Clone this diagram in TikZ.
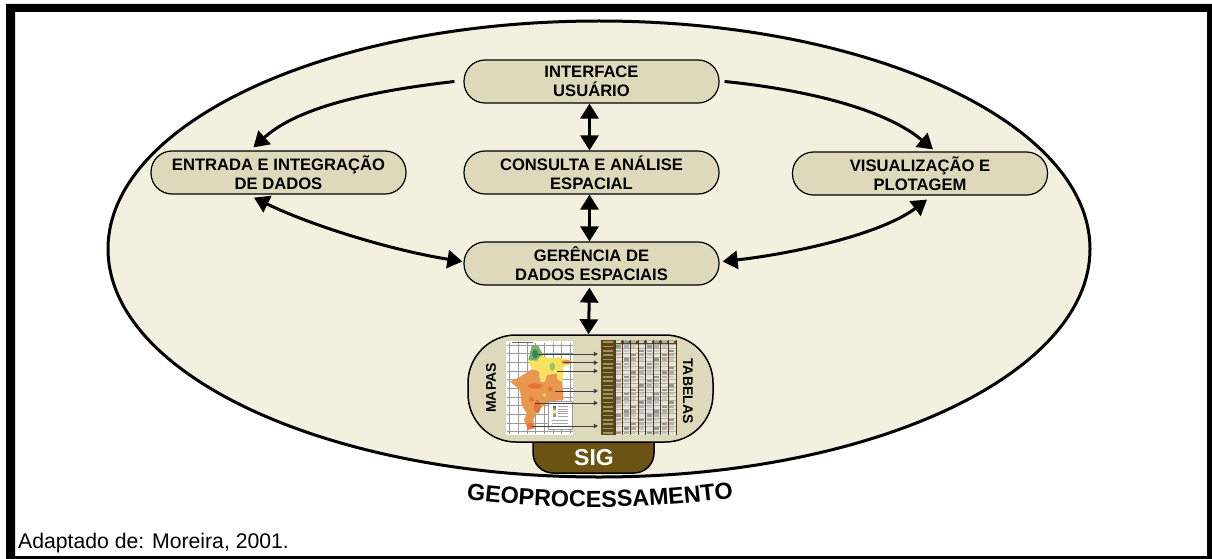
\documentclass[tikz,border=0pt]{standalone}
\usepackage{fontspec}
\setmainfont{Liberation Sans}
\usetikzlibrary{arrows.meta,decorations.text}
\definecolor{fundo}{HTML}{F4F0E0}
\definecolor{caixa}{HTML}{DFD9BC}
\definecolor{marrom}{HTML}{6B5314}
\definecolor{celula}{HTML}{ECE8D8}
\definecolor{laranja}{HTML}{E9964E}
\definecolor{telha}{HTML}{E2733A}
\definecolor{amarelo}{HTML}{F6E25F}
\definecolor{verde}{HTML}{7FAE68}
\definecolor{mata}{HTML}{2F8A55}
\tikzset{
	pill/.style={draw,line width=1.2pt,fill=caixa,rectangle,rounded corners=21pt,minimum width=255pt,minimum height=43pt,inner sep=0pt,align=center,font=\fontsize{16.6}{18.8}\selectfont\bfseries,execute at begin node={\rule{0pt}{15pt}}},
	link/.style={line width=3pt,>={Triangle[length=15pt,width=18pt]}},
	maplink/.style={line width=0.5pt,black!75,-{Triangle[length=4pt,width=4.5pt]},shorten >=3pt},
	lateral/.style={font=\fontsize{14}{16}\selectfont\bfseries,inner sep=0pt},
}
\begin{document}
\begin{tikzpicture}[x=1pt,y=-1pt]
	\useasboundingbox (0,0) rectangle (1212,559);
	\fill[even odd rule] (6,4) rectangle (1212,559) (15,12) rectangle (1207,556);
	\node[font=\fontsize{21.2}{24}\selectfont,inner sep=0pt,anchor=base west] (fonte) at (18,548) {Adaptado de: Moreira, 2001.};
	\draw[line width=3pt,fill=fundo] (599,249) ellipse [x radius=491,y radius=228];
	\node[pill] (interface) at (591.5,81.5) {INTERFACE\\USUÁRIO};
	\node[pill] (entrada) at (278.5,172.5) {ENTRADA E INTEGRAÇÃO\\DE DADOS};
	\node[pill] (consulta) at (591.5,172.5) {CONSULTA E ANÁLISE\\ESPACIAL};
	\node[pill] (visual) at (920,173.5) {VISUALIZAÇÃO E\\PLOTAGEM};
	\node[pill] (gerencia) at (591.5,263.5) {GERÊNCIA DE\\DADOS ESPACIAIS};
	\node[draw,line width=1.5pt,fill=marrom,rectangle,rounded corners=20pt,minimum width=121pt,minimum height=53pt] (sig) at (593.5,446.5) {};
	\node[draw,line width=1.5pt,fill=caixa,rectangle,rounded corners=48pt,minimum width=245pt,minimum height=107pt] (base) at (590.5,388.5) {};
	\node[font=\fontsize{23}{26}\selectfont\bfseries,text=white,inner sep=0pt] (siglabel) at (594,458) {SIG};
	\node[lateral,rotate=90] (mapas) at (491,388) {MAPAS};
	\node[lateral,rotate=-90] (tabelas) at (688,391) {TABELAS};
	\draw[link,<-] ([xshift=-25pt,yshift=3pt]entrada.north) .. controls (300,105) and (380,90) .. ([xshift=-9pt]interface.west);
	\draw[link,->] ([xshift=5pt]interface.east) .. controls (790,88) and (880,105) .. ([xshift=13pt,yshift=2pt]visual.north);
	\draw[link,<->] ([xshift=-24.5pt,yshift=-3pt]entrada.south) .. controls (310,225) and (390,250) .. ([xshift=-1pt,yshift=2pt]gerencia.west);
	\draw[link,<->] ([xshift=7pt,yshift=-4pt]visual.south) .. controls (880,235) and (790,254) .. ([xshift=3pt,yshift=2pt]gerencia.east);
	\draw[link,<->] ([xshift=-2pt]interface.south) -- ([xshift=-2pt]consulta.north);
	\draw[link,<->] ([xshift=-2pt]consulta.south) -- ([xshift=-2pt]gerencia.north);
	\draw[link,<->] ([xshift=-2pt,yshift=-2pt]gerencia.south) -- ([xshift=-2pt]base.north);
	\begin{scope}[shift={(500,340)},scale=1/3]
		\fill[white] (18,3) rectangle (220,285);
		\foreach \i in {0,...,7}{\draw[black!40,line width=0.3pt] (28+26*\i,8) -- (28+26*\i,282);}
		\foreach \i in {0,...,10}{\draw[black!40,line width=0.3pt] (20,14+26*\i) -- (218,14+26*\i);}
		\fill[laranja] (30,125) -- (60,110) -- (95,88) -- (115,92) -- (122,125) -- (135,125) -- (140,105) -- (170,100) -- (172,118) -- (187,125) -- (190,180) -- (145,185) -- (110,215) -- (100,240) -- (105,265) -- (85,270) -- (72,240) -- (80,220) -- (65,195) -- (60,150) -- cycle;
		\fill[amarelo] (85,60) -- (120,40) -- (140,55) -- (175,52) -- (217,62) -- (205,75) -- (190,80) -- (187,125) -- (172,118) -- (170,100) -- (140,105) -- (135,125) -- (122,122) -- (115,90) -- (95,88) -- cycle;
		\fill[verde] (95,18) -- (115,18) -- (130,45) -- (120,50) -- (110,62) -- (85,60) -- cycle;
		\fill[mata] (105,42) ellipse [x radius=9,y radius=14];
		\fill[verde!70!amarelo] (157,80) ellipse [x radius=8,y radius=12];
		\fill[laranja] (200,66) ellipse [x radius=17,y radius=6];
		\fill[telha] (105,138) ellipse [x radius=22,y radius=8];
		\fill[telha] (150,147) circle (7);
		\fill[telha] (95,178) circle (7);
		\fill[telha] (112,200) ellipse [x radius=10,y radius=20];
		\fill[telha] (90,258) circle (10);
		\fill[amarelo] (133,165) circle (5);
		\draw[black!40,fill=white,line width=0.3pt] (145,183) rectangle (217,268);
		\draw[black!60,line width=0.5pt] (35,8) -- (100,8);
		\foreach \c [count=\i] in {mata,verde,amarelo,laranja,telha}{\fill[\c] (160,190+7*\i) rectangle (168,196+7*\i);
			\draw[black!35,line width=0.6pt] (174,193+7*\i) -- (205,193+7*\i);}
		\draw[black!35,line width=0.6pt] (155,240) -- (205,240) (155,250) -- (205,250) (155,260) -- (205,260);
		\foreach \xa/\ya [count=\i] in {115/42,190/68,170/93,165/153,105/189,95/258}{\coordinate (m\i) at (\xa,\ya);}
	\end{scope}
	\node[rectangle,fill=celula,inner sep=0pt,minimum width=75pt,minimum height=95pt] (tabela) at (638.5,387.5) {};
	\fill[marrom!85!black] (tabela.north west) rectangle ([xshift=14pt]tabela.south west);
	\fill[marrom!85!black] (tabela.north west) rectangle ([yshift=-4pt]tabela.north east);
	\foreach \l in {0,...,21}{
		\pgfmathsetmacro{\yl}{340+4.32*\l}
		\draw[black!30,line width=0.3pt] (615,\yl) -- (676,\yl);
		\fill[marrom!65!white] (603,\yl+1.3) rectangle (613,\yl+3);
		\foreach \k in {0,...,7}{
			\pgfmathsetmacro{\xk}{615+7.6*\k}
			\pgfmathtruncatemacro{\tom}{12+mod(7*\l+11*\k,4)*10}
			\fill[black!\tom] (\xk+1.2,\yl+1) rectangle (\xk+6.2,\yl+3.4);
		}
	}
	\foreach \k in {0,...,8}{\draw[marrom!70!black,line width=0.4pt] ({615+7.6*\k},340) -- ({615+7.6*\k},435);}
	\foreach \i in {1,...,6}{\draw[maplink] (m\i) -- (m\i -| tabela.west);}
	\path[decorate,decoration={text along path,text align=center,text={|\fontsize{23.4}{26}\selectfont\bfseries|GEOPROCESSAMENTO}}] (455,497.5) .. controls (552,510.5) and (648,510.5) .. (745,496);
\end{tikzpicture}
\end{document}
